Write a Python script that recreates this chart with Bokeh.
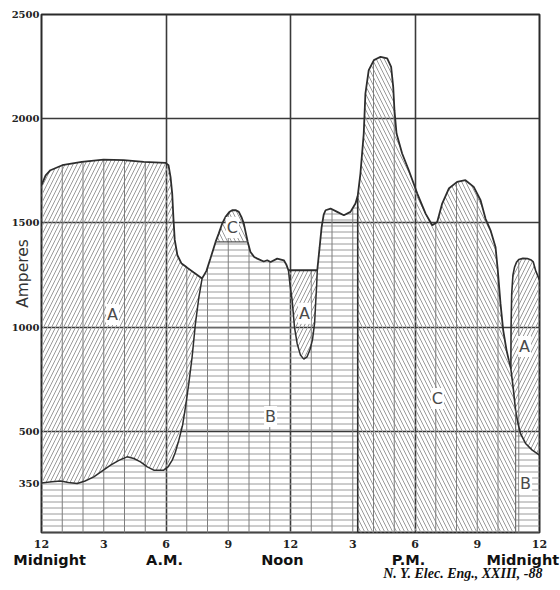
import numpy as np
from bokeh.plotting import figure
from bokeh.models import Range1d, FixedTicker, Label, LinearAxis
from bokeh.embed import file_html
from bokeh.resources import INLINE

# ---------------- data (hours after midnight, amperes) ----------------
# total load: upper boundary of all shaded areas
hours_total = [0.00, 0.20, 0.43, 1.00, 1.94, 2.99, 3.96, 4.93, 5.98, 6.12, 6.22, 6.30,
               6.36, 6.42, 6.55, 6.75, 7.00, 7.34, 7.74, 7.95, 8.14, 8.39, 8.54, 8.70,
               8.87, 9.05, 9.19, 9.35, 9.51, 9.65, 9.75, 9.85, 9.94, 10.07, 10.25, 10.40,
               10.71, 10.88, 11.04, 11.36, 11.68, 11.80, 11.90, 13.29, 13.40, 13.50, 13.60,
               13.69, 13.93, 14.25, 14.57, 14.89, 15.13, 15.24, 15.37, 15.53, 15.61, 15.77,
               16.02, 16.34, 16.66, 16.85, 16.95, 17.01, 17.11, 17.38, 17.70, 18.11, 18.51,
               18.83, 19.07, 19.31, 19.63, 20.03, 20.43, 20.83, 21.16, 21.40, 21.64, 21.88,
               21.99, 22.12, 22.25, 22.41, 22.52]
amps_total = [1681, 1728, 1753, 1777, 1793, 1804, 1801, 1793, 1788, 1777, 1720, 1640,
              1520, 1420, 1345, 1305, 1287, 1262, 1234, 1270, 1329, 1409, 1449, 1495,
              1529, 1552, 1561, 1562, 1553, 1525, 1497, 1450, 1409, 1361, 1337, 1329,
              1315, 1321, 1313, 1329, 1321, 1300, 1273, 1273, 1380, 1480, 1540,
              1561, 1569, 1553, 1537, 1553, 1593, 1630, 1737, 1929, 2121, 2233,
              2281, 2297, 2289, 2249, 2153, 2041, 1929, 1833, 1753, 1641, 1545,
              1489, 1505, 1593, 1665, 1697, 1705, 1673, 1609, 1520, 1465, 1385,
              1273, 1114, 986, 890, 842]

# boundary between A (above) and B (below) in the early morning
hours_lower_am = [0.00, 0.50, 0.92, 1.30, 1.72, 2.10, 2.52, 2.95, 3.33, 3.75, 4.13, 4.45,
                  4.77, 5.10, 5.41, 5.89, 6.10, 6.30, 6.45, 6.62, 6.80, 6.94, 7.10, 7.26,
                  7.42, 7.58, 7.74]
amps_lower_am = [253, 258, 262, 255, 250, 262, 282, 312, 338, 362, 378, 370,
                 354, 330, 314, 314, 330, 362, 400, 458, 530, 618, 730, 858,
                 1018, 1140, 1234]

# dip of B below the A island after noon
hours_dip = [11.90, 11.98, 12.08, 12.19, 12.32, 12.48, 12.64, 12.80, 12.95, 13.06,
             13.16, 13.22, 13.26, 13.29]
amps_dip = [1273, 1200, 1130, 1002, 922, 866, 847, 858, 895, 940,
            1018, 1130, 1200, 1273]

# late evening lower boundary (C / B top, A bottom)
hours_late = [22.52, 22.62, 22.72, 22.85, 22.95, 23.08, 23.33, 23.65, 24.00]
amps_late = [842, 800, 720, 600, 545, 490, 442, 410, 386]

# late evening A island top
hours_bump = [22.62, 22.63, 22.66, 22.72, 22.80, 22.90, 23.00, 23.20, 23.41, 23.60,
              23.70, 23.81, 23.90, 24.00]
amps_bump = [800, 1000, 1160, 1250, 1289, 1313, 1325, 1330, 1329, 1322,
             1313, 1273, 1250, 1225]

c_bump_base = 1409        # flat line under the small C area near 9 A.M.
c_bump_hours = [8.39, 9.94]
b_c_split = 15.24         # B gives way to C
c_b_split = 22.85         # C gives way to B again

x_tick_values = [0, 3, 6, 9, 12, 15, 18, 21, 24]
x_tick_labels = ["12", "3", "6", "9", "12", "3", "6", "9", "12"]
y_tick_values = [252, 500, 1000, 1500, 2000, 2500]
y_tick_labels = ["350", "500", "1000", "1500", "2000", "2500"]

period_names = ["Midnight", "A.M.", "Noon", "P.M.", "Midnight"]
period_hours = [0.39, 5.93, 11.61, 17.69, 23.2]

region_names = ["A", "C", "B", "A", "C", "A", "B"]
region_hours = [3.42, 9.2, 11.04, 12.67, 19.08, 23.28, 23.33]
region_amps = [1061, 1478, 571, 1066, 658, 907, 250]

source_text = "N. Y. Elec. Eng., XXIII, -88"
source_hour = 20.31
y_title = "Amperes"

# ---------------- helpers ----------------
def seg(hs, vs, h0, h1):
    hs = np.asarray(hs, float)
    vs = np.asarray(vs, float)
    m = (hs > h0) & (hs < h1)
    xs = [h0] + list(hs[m]) + [h1]
    ys = [float(np.interp(h0, hs, vs))] + list(vs[m]) + [float(np.interp(h1, hs, vs))]
    return xs, ys


def bare_axis(ax):
    ax.axis_line_color = None
    ax.major_tick_line_color = None
    ax.minor_tick_line_color = None
    ax.major_tick_out = 0
    ax.major_tick_in = 0
    ax.minor_tick_out = 0
    ax.minor_tick_in = 0

# ---------------- figure ----------------
p = figure(width=560, height=588, x_range=Range1d(0, 24), y_range=Range1d(15, 2500),
           output_backend="svg", toolbar_location=None,
           min_border_left=41, min_border_right=21, min_border_top=14, min_border_bottom=56)
p.background_fill_color = "white"
p.border_fill_color = "white"
p.outline_line_color = "#2a2a2a"
p.outline_line_width = 2

p.xgrid.ticker = FixedTicker(ticks=[6, 12, 18])
p.ygrid.ticker = FixedTicker(ticks=[500, 1000, 1500, 2000])
for g in (p.xgrid, p.ygrid):
    g.grid_line_color = "#3a3a3a"
    g.grid_line_width = 1.6
    g.grid_line_alpha = 1.0

p.xaxis.ticker = FixedTicker(ticks=x_tick_values)
p.xaxis.major_label_overrides = {v: t for v, t in zip(x_tick_values, x_tick_labels)}
p.yaxis.ticker = FixedTicker(ticks=y_tick_values)
p.yaxis.major_label_overrides = {v: t for v, t in zip(y_tick_values, y_tick_labels)}
for ax in (p.xaxis[0], p.yaxis[0]):
    bare_axis(ax)
    ax.major_label_text_font = "DejaVu Serif"
    ax.major_label_text_font_style = "bold"
    ax.major_label_text_color = "#222222"
p.xaxis.major_label_text_font_size = "11px"
p.xaxis.major_label_standoff = 7
p.yaxis.major_label_text_font_size = "10px"
p.yaxis.major_label_standoff = 2
p.yaxis.axis_label = y_title
p.yaxis.axis_label_text_font = "DejaVu Sans"
p.yaxis.axis_label_text_font_style = "normal"
p.yaxis.axis_label_text_font_size = "15.5px"
p.yaxis.axis_label_text_color = "#333333"
p.yaxis.axis_label_standoff = -23

# period words under the hour numbers
period_axis = LinearAxis(ticker=FixedTicker(ticks=period_hours),
                         major_label_overrides={h: t for h, t in zip(period_hours, period_names)})
bare_axis(period_axis)
period_axis.major_label_text_font = "DejaVu Sans"
period_axis.major_label_text_font_style = "bold"
period_axis.major_label_text_font_size = "14.5px"
period_axis.major_label_text_color = "#111111"
period_axis.major_label_standoff = 1
p.add_layout(period_axis, "below")

# source line
source_axis = LinearAxis(ticker=FixedTicker(ticks=[source_hour]),
                         major_label_overrides={source_hour: source_text})
bare_axis(source_axis)
source_axis.major_label_text_font = "Liberation Serif"
source_axis.major_label_text_font_style = "bold italic"
source_axis.major_label_text_font_size = "14px"
source_axis.major_label_text_color = "#111111"
source_axis.major_label_standoff = -5
p.add_layout(source_axis, "below")

HATCH = "#9a9a9a"

# A (early morning)
xa, ya = seg(hours_lower_am, amps_lower_am, 0, 7.74)
xt, yt = seg(hours_total, amps_total, 0, 7.74)
p.patch(xa + xt[::-1], ya + yt[::-1], fill_color=None, line_color=None,
        hatch_pattern="/", hatch_color=HATCH, hatch_scale=8, hatch_weight=1)

# B (midnight to afternoon)
bx, by = [0.0], [0.0]
x1, y1 = seg(hours_lower_am, amps_lower_am, 0, 7.74); bx += x1; by += y1
x1, y1 = seg(hours_total, amps_total, 7.74, c_bump_hours[0]); bx += x1; by += y1
bx += c_bump_hours; by += [c_bump_base, c_bump_base]
x1, y1 = seg(hours_total, amps_total, c_bump_hours[1], hours_dip[0]); bx += x1; by += y1
bx += list(hours_dip); by += list(amps_dip)
x1, y1 = seg(hours_total, amps_total, hours_dip[-1], b_c_split); bx += x1; by += y1
bx += [b_c_split]; by += [0.0]
p.patch(bx, by, fill_color=None, line_color=None,
        hatch_pattern="-", hatch_color=HATCH, hatch_scale=6, hatch_weight=1)

# C (small bump near 9 A.M.)
xc, yc = seg(hours_total, amps_total, c_bump_hours[0], c_bump_hours[1])
p.patch(xc, yc, fill_color=None, line_color=None,
        hatch_pattern="\\", hatch_color=HATCH, hatch_scale=8, hatch_weight=1)

# A (island after noon)
p.patch(hours_dip, amps_dip, fill_color=None, line_color=None,
        hatch_pattern="/", hatch_color=HATCH, hatch_scale=8, hatch_weight=1)

# C (afternoon and evening)
cx, cy = [b_c_split], [0.0]
x1, y1 = seg(hours_total, amps_total, b_c_split, hours_total[-1]); cx += x1; cy += y1
x1, y1 = seg(hours_late, amps_late, hours_late[0], c_b_split); cx += x1; cy += y1
cx += [c_b_split]; cy += [0.0]
p.patch(cx, cy, fill_color=None, line_color=None,
        hatch_pattern="\\", hatch_color=HATCH, hatch_scale=8, hatch_weight=1)

# B (late night)
x1, y1 = seg(hours_late, amps_late, c_b_split, 24)
p.patch([c_b_split] + x1 + [24], [0.0] + y1 + [0.0], fill_color=None, line_color=None,
        hatch_pattern="-", hatch_color=HATCH, hatch_scale=6, hatch_weight=1)

# A (late night island)
x1, y1 = seg(hours_late, amps_late, hours_bump[0], 24)
p.patch(x1 + hours_bump[::-1], y1 + amps_bump[::-1], fill_color=None, line_color=None,
        hatch_pattern="/", hatch_color=HATCH, hatch_scale=8, hatch_weight=1)

# hour lines inside the shaded areas
hrs = [h for h in range(1, 24) if h % 6 != 0]
env = []
for h in hrs:
    v = 0.0
    if h <= hours_total[-1]:
        v = max(v, float(np.interp(h, hours_total, amps_total)))
    if h >= hours_bump[0]:
        v = max(v, float(np.interp(h, hours_bump, amps_bump)))
    env.append(v)
p.segment(x0=hrs, y0=[0] * len(hrs), x1=hrs, y1=env, line_color="#7e7e7e", line_width=1)

# outlines
LINE = "#2e2e2e"
p.line(hours_total, amps_total, line_color=LINE, line_width=1.8)
p.line(hours_lower_am, amps_lower_am, line_color=LINE, line_width=1.5)
p.line(hours_dip, amps_dip, line_color=LINE, line_width=1.5)
p.line(hours_late, amps_late, line_color=LINE, line_width=1.6)
p.line(hours_bump, amps_bump, line_color=LINE, line_width=1.6)
p.line(c_bump_hours, [c_bump_base, c_bump_base], line_color="#555555", line_width=1.2)
p.segment(x0=[b_c_split, c_b_split], y0=[0, 0], x1=[b_c_split, c_b_split],
          y1=[float(np.interp(b_c_split, hours_total, amps_total)),
              float(np.interp(c_b_split, hours_late, amps_late))],
          line_color=["#2e2e2e", "#666666"], line_width=[1.6, 1.1])

# region letters
for name, h, a in zip(region_names, region_hours, region_amps):
    p.add_layout(Label(x=h, y=a, text=name, text_align="center", text_baseline="middle",
                       text_font="DejaVu Sans", text_font_size="16px", text_color="#4a4a4a",
                       background_fill_color="white", padding=1))

open("out.html", "w").write(file_html(p, INLINE))
